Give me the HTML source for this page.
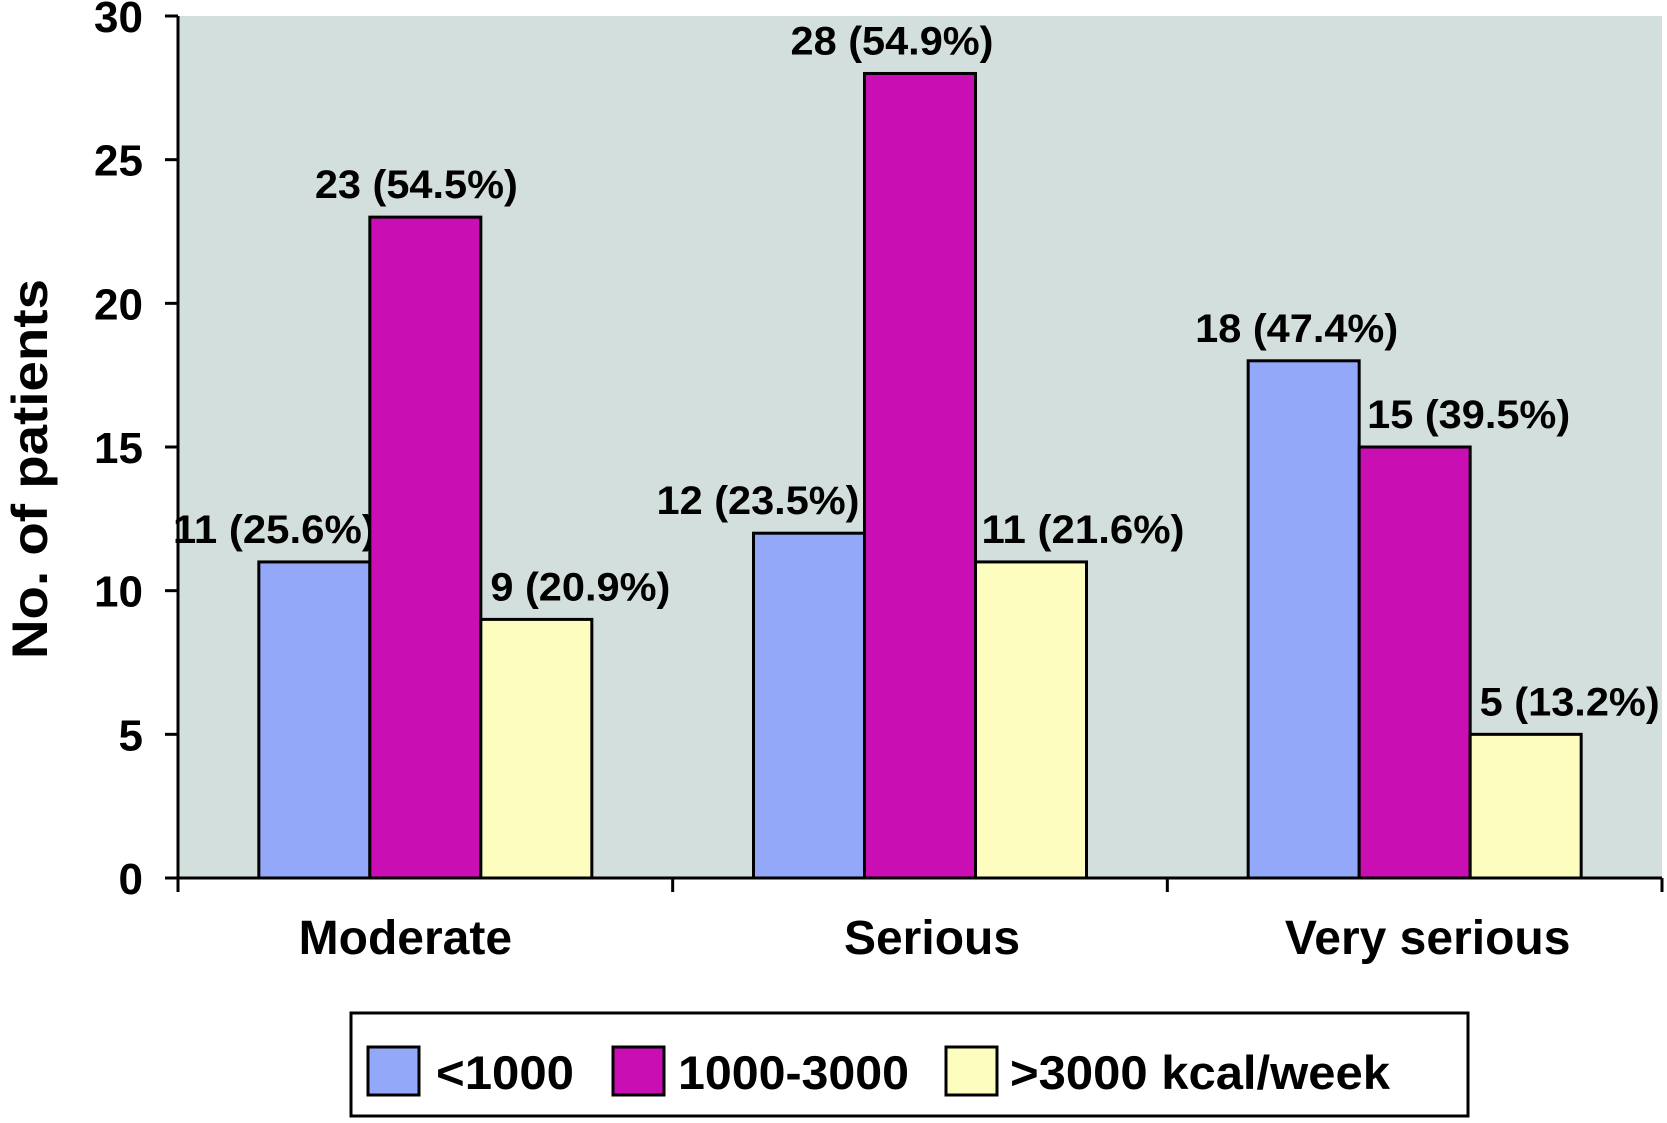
<!DOCTYPE html>
<html><head><meta charset="utf-8"><style>
html,body{margin:0;padding:0;background:#fff;}
svg text{font-family:"Liberation Sans",sans-serif;font-weight:bold;fill:#000;}
</style></head><body>
<svg id="chart" width="1667" height="1118" viewBox="0 0 1667 1118" xmlns="http://www.w3.org/2000/svg">
<rect x="178" y="16" width="1484" height="862" fill="#d3dfdd"/>
<g id="bars"></g>
<g id="axes"></g>
<text transform="translate(47,469) rotate(-90)" text-anchor="middle" font-size="50" textLength="380" lengthAdjust="spacingAndGlyphs">No. of patients</text>
<g>
<rect x="351" y="1013" width="1117" height="103" fill="#fff" stroke="#000" stroke-width="3"/>
<rect x="368" y="1047" width="51" height="48" fill="#93a8f8" stroke="#000" stroke-width="3"/>
<text x="436" y="1089" font-size="47" textLength="138" lengthAdjust="spacingAndGlyphs">&lt;1000</text>
<rect x="613" y="1047" width="51" height="48" fill="#c90eb4" stroke="#000" stroke-width="3"/>
<text x="678" y="1089" font-size="47" textLength="231" lengthAdjust="spacingAndGlyphs">1000-3000</text>
<rect x="946" y="1047" width="51" height="48" fill="#fdfdc0" stroke="#000" stroke-width="3"/>
<text x="1010" y="1089" font-size="47" textLength="380" lengthAdjust="spacingAndGlyphs">&gt;3000 kcal/week</text>
</g>
</svg>
<script>
const categories = ["Moderate","Serious","Very serious"];
const seriesLow = [11,12,18];
const seriesMid = [23,28,15];
const seriesHigh = [9,11,5];
const pctLow = ["25.6%","23.5%","47.4%"];
const pctMid = ["54.5%","54.9%","39.5%"];
const pctHigh = ["20.9%","21.6%","13.2%"];
const yTicks = [0,5,10,15,20,25,30];

const NS="http://www.w3.org/2000/svg";
const L=178,R=1662,T=16,B=878,yMax=30;
const gw=(R-L)/categories.length, bw=111, off=(gw-3*bw)/2;
const labelDx=[[-40,-51,-7],[-9,-28,54],[44,52,44]];
const catDx=[-20,12,13];
const y=v=>B-(v/yMax)*(B-T);
const xg=i=>L+i*gw;
function mk(tag,attrs,parent,txt){const e=document.createElementNS(NS,tag);for(const k in attrs)e.setAttribute(k,attrs[k]);if(txt!==undefined)e.textContent=txt;parent.appendChild(e);return e;}
const bars=document.getElementById('bars'), axes=document.getElementById('axes');
const series=[{v:seriesLow,p:pctLow,c:"#93a8f8",n:"low"},{v:seriesMid,p:pctMid,c:"#c90eb4",n:"mid"},{v:seriesHigh,p:pctHigh,c:"#fdfdc0",n:"high"}];
series.forEach((s,si)=>{
  s.v.forEach((v,i)=>{
    const x=xg(i)+off+si*bw;
    const r=mk('rect',{x:x,y:y(v),width:bw,height:B-y(v),fill:s.c,stroke:"#000","stroke-width":3},bars);
    
    
    const t=mk('text',{x:x+bw/2+labelDx[si][i],y:y(v)-19,"text-anchor":"middle","font-size":40,textLength:203,lengthAdjust:"spacingAndGlyphs"},bars,v+" ("+s.p[i]+")");
    if(String(v).length==1) t.setAttribute('textLength',180);
    
    
  });
});
mk('line',{x1:L,y1:T,x2:L,y2:B,stroke:"#000","stroke-width":3},axes);
mk('line',{x1:L,y1:B,x2:R,y2:B,stroke:"#000","stroke-width":3},axes);
yTicks.forEach(t=>{
  mk('line',{x1:165,y1:y(t),x2:L,y2:y(t),stroke:"#000","stroke-width":3},axes);
  const e=mk('text',{x:143,y:y(t)+16,"text-anchor":"end","font-size":44},axes,t);
  
  
});
for(let i=0;i<=categories.length;i++){
  mk('line',{x1:xg(i),y1:B,x2:xg(i),y2:B+14,stroke:"#000","stroke-width":3},axes);
}
categories.forEach((c,i)=>{
  const e=mk('text',{x:xg(i)+gw/2+catDx[i],y:954,"text-anchor":"middle","font-size":48},axes,c);
  
  
});
</script>
</body></html>
